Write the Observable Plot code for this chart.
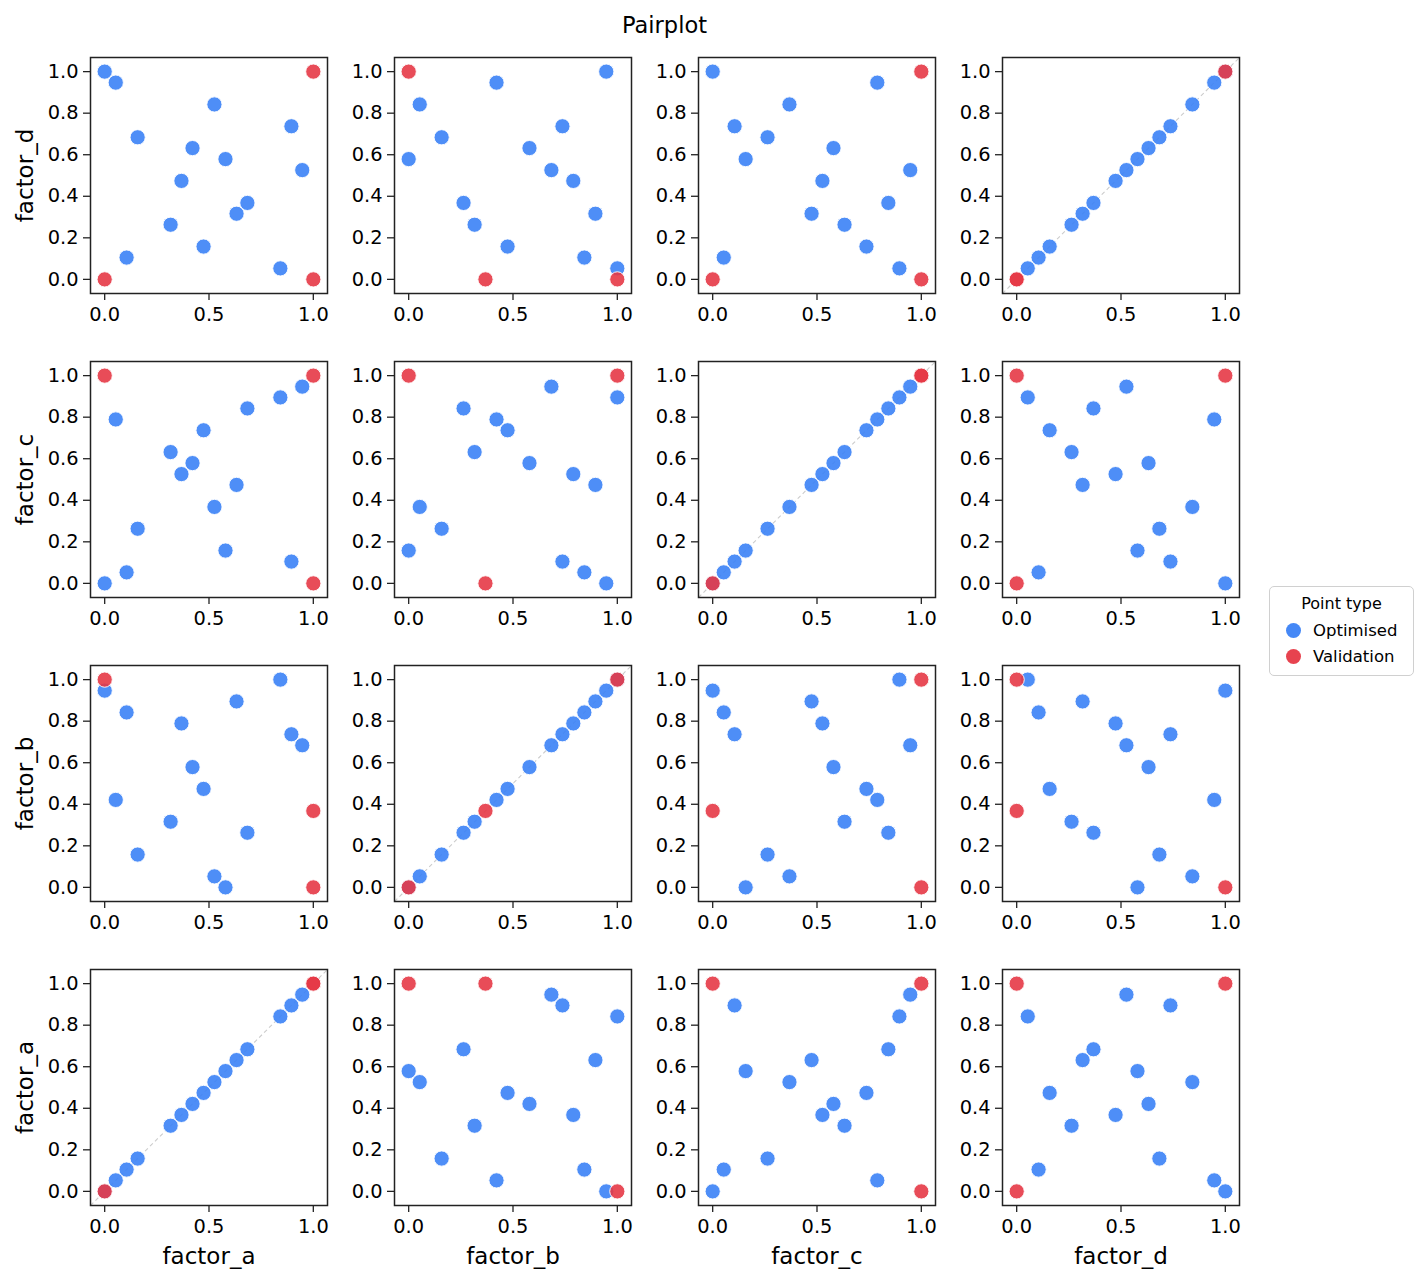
<!DOCTYPE html>
<html>
<head>
<meta charset="utf-8">
<script src="https://cdn.jsdelivr.net/npm/d3@7"></script>
<script src="https://cdn.jsdelivr.net/npm/@observablehq/plot@0.6"></script>
<style>
  body { margin: 0; background: #fff; font-family: "DejaVu Sans", sans-serif; }
  #fig { position: relative; width: 1428px; height: 1284px; background: #fff; }
  .panel { position: absolute; }
  #title { position: absolute; left: 0; width: 1329px; top: 12px; text-align: center; font-size: 22.5px; color: #000; }
  #legend { position: absolute; left: 1269px; top: 586px; width: 145px; height: 90px; border: 1.5px solid #d0d0d0; border-radius: 5px; box-sizing: border-box; font-size: 16.5px; color: #000; }
  #legend .ttl { position: absolute; top: 7px; width: 100%; text-align: center; font-size: 16px; }
  #legend .row { position: absolute; left: 16px; height: 24px; display: flex; align-items: center; }
  #legend .sw { width: 15px; height: 15px; border-radius: 50%; margin-right: 12px; }
</style>
</head>
<body>
<div id="fig">
  <div id="title">Pairplot</div>
</div>
<script>
// ---- data ----
const colFactors = ["factor_a", "factor_b", "factor_c", "factor_d"];
const rowFactors = ["factor_d", "factor_c", "factor_b", "factor_a"];
const pointTypes = ["Optimised", "Validation"];
const typeColors = ["#3b82f6", "#e63946"];

const optA = [0, 0.053, 0.105, 0.158, 0.316, 0.368, 0.421, 0.474, 0.526, 0.579, 0.632, 0.684, 0.842, 0.895, 0.947];
const optB = [0.947, 0.421, 0.842, 0.158, 0.316, 0.789, 0.579, 0.474, 0.053, 0, 0.895, 0.263, 1.0, 0.737, 0.684];
const optC = [0, 0.789, 0.053, 0.263, 0.632, 0.526, 0.579, 0.737, 0.368, 0.158, 0.474, 0.842, 0.895, 0.105, 0.947];
const optD = [1.0, 0.947, 0.105, 0.684, 0.263, 0.474, 0.632, 0.158, 0.842, 0.579, 0.316, 0.368, 0.053, 0.737, 0.526];

const valA = [1.0, 1.0, 0];
const valB = [0.368, 0, 1.0];
const valC = [0, 1.0, 1.0];
const valD = [0, 1.0, 0];

const xTicks = [0, 0.5, 1.0];
const yTicks = [0, 0.2, 0.4, 0.6, 0.8, 1.0];
const DOMAIN = [-0.068, 1.068];

// ---- build tables ----
const opt = optA.map((a, i) => ({factor_a: a, factor_b: optB[i], factor_c: optC[i], factor_d: optD[i], type: pointTypes[0]}));
const val = valA.map((a, i) => ({factor_a: a, factor_b: valB[i], factor_c: valC[i], factor_d: valD[i], type: pointTypes[1]}));

// ---- layout ----
const fig = document.getElementById("fig");
const frameW = 237, frameH = 236;
const colLeft = [90, 394, 698, 1002];
const rowTop = [57, 361, 665, 969];

rowFactors.forEach((fy, ri) => {
  colFactors.forEach((fx, ci) => {
    const ml = ci === 0 ? 88 : 60;
    const mb = ri === 3 ? 80 : 45;
    const mt = 10, mr = 12;
    const marks = [];
    if (fx === fy) {
      marks.push(Plot.link([DOMAIN], {x1: d => d[0], y1: d => d[0], x2: d => d[1], y2: d => d[1],
        stroke: "#cccccc", strokeWidth: 1.1, strokeDasharray: "4,3"}));
    }
    marks.push(
      Plot.dot(opt, {x: fx, y: fy, r: 7.6, fill: typeColors[0], fillOpacity: 0.9, stroke: "#fff", strokeWidth: 0.9}),
      Plot.dot(val, {x: fx, y: fy, r: 7.6, fill: typeColors[1], fillOpacity: 0.9, stroke: "#fff", strokeWidth: 0.9}),
      Plot.frame({stroke: "#222", strokeWidth: 1.5}),
      Plot.axisX(xTicks, {tickFormat: ".1f", tickSize: 7, tickPadding: 7, label: null, fontSize: 19.4, stroke: "#222", strokeWidth: 1.3}),
      Plot.axisY(yTicks, {tickFormat: ".1f", tickSize: 7, tickPadding: 5, label: null, fontSize: 19.4, stroke: "#222", strokeWidth: 1.3})
    );
    if (ci === 0) {
      marks.push(Plot.text([fy], {text: d => d, frameAnchor: "left", textAnchor: "middle", lineAnchor: "middle",
        dx: -65, rotate: -90, fontSize: 23, fill: "#000"}));
    }
    if (ri === 3) {
      marks.push(Plot.text([fx], {text: d => d, frameAnchor: "bottom", textAnchor: "middle", lineAnchor: "middle",
        dy: 51, fontSize: 23, fill: "#000"}));
    }
    const svg = Plot.plot({
      width: frameW + ml + mr,
      height: frameH + mt + mb,
      marginLeft: ml, marginRight: mr, marginTop: mt, marginBottom: mb,
      x: {domain: DOMAIN},
      y: {domain: DOMAIN},
      style: {fontFamily: "DejaVu Sans", color: "#000", background: "transparent", overflow: "visible"},
      marks
    });
    const wrap = document.createElement("div");
    wrap.className = "panel";
    wrap.style.left = (colLeft[ci] - ml) + "px";
    wrap.style.top = (rowTop[ri] - mt) + "px";
    wrap.appendChild(svg);
    fig.appendChild(wrap);
  });
});

// ---- legend ----
const legend = d3.select("#fig").append("div").attr("id", "legend");
legend.append("div").attr("class", "ttl").text("Point type");
pointTypes.forEach((t, i) => {
  const row = legend.append("div").attr("class", "row").style("top", (31 + i * 26) + "px");
  row.append("div").attr("class", "sw").style("background", typeColors[i]).style("opacity", 0.95);
  row.append("span").text(t);
});
</script>
</body>
</html>
